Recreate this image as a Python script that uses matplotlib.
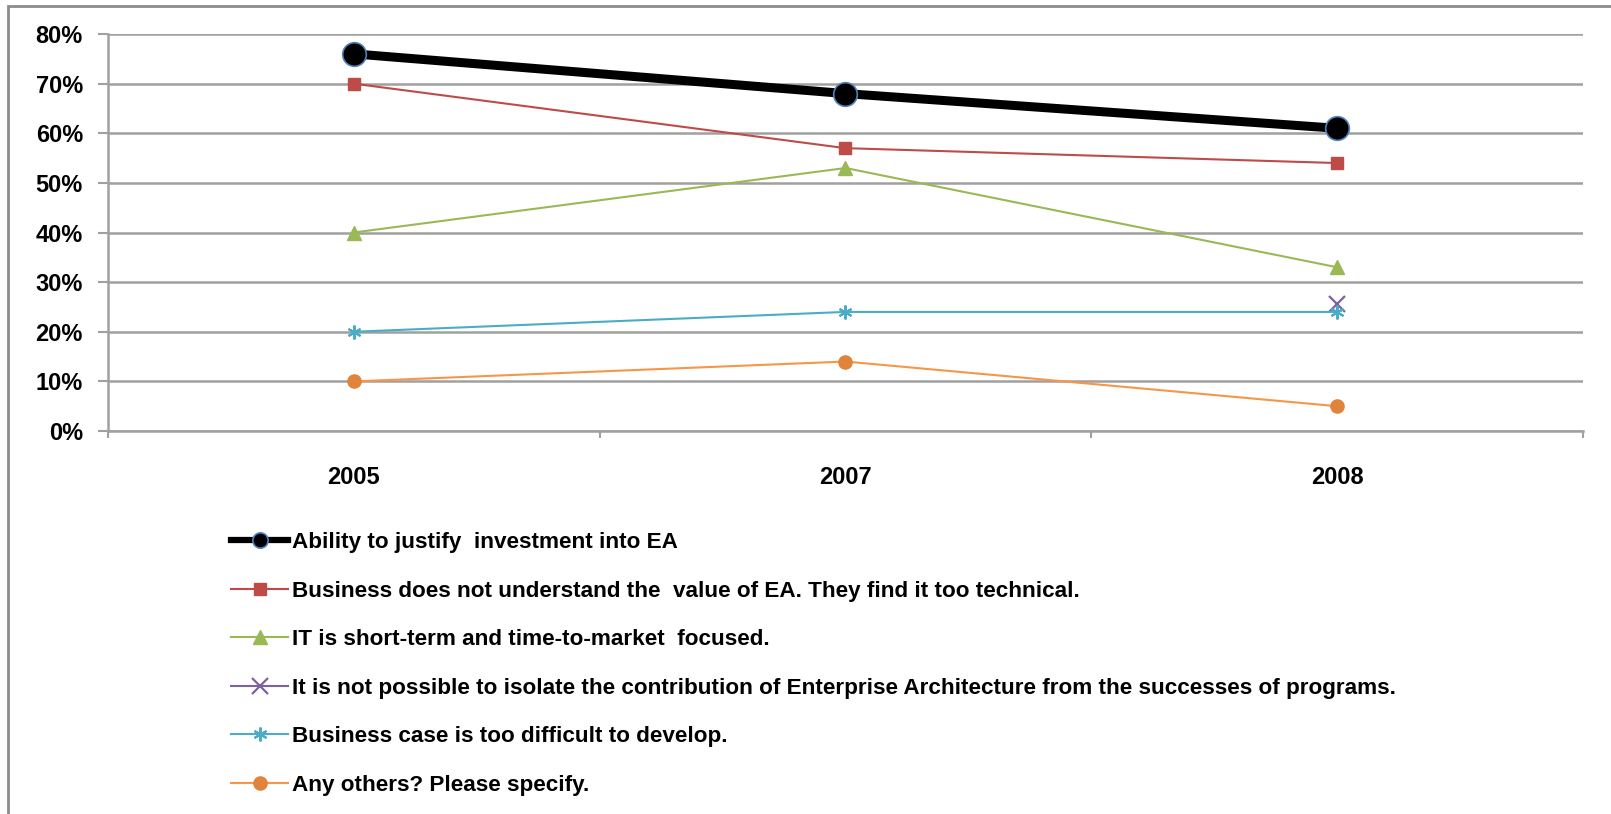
import numpy as np
import matplotlib
matplotlib.use('Agg')
from matplotlib import pyplot as plt
from matplotlib.patches import Rectangle

# data
years = ['2005', '2007', '2008']
ability = [0.76, 0.68, 0.61]
business_value = [0.70, 0.57, 0.54]
it_short_term = [0.40, 0.53, 0.33]
not_possible = [np.nan, np.nan, 0.255]
business_case = [0.20, 0.24, 0.24]
others = [0.10, 0.14, 0.05]
labels = ['Ability to justify  investment into EA',
          'Business does not understand the  value of EA. They find it too technical.',
          'IT is short-term and time-to-market  focused.',
          'It is not possible to isolate the contribution of Enterprise Architecture from the successes of programs.',
          'Business case is too difficult to develop.',
          'Any others? Please specify.']

plt.rcParams['font.family'] = ['Liberation Sans', 'DejaVu Sans']
plt.rcParams['font.weight'] = 'bold'

fig = plt.figure(figsize=(16.11, 8.14), dpi=100)
ax = fig.add_axes([0.0670, 0.4705, 0.9156, 0.4877])
x = np.arange(len(years))
grey = '#A0A0A0'

lines = []
lines += ax.plot(x, ability, color='black', lw=6.5, marker='o', ms=17,
                 mfc='black', mec='#4F81BD', mew=1.2, zorder=6)
lines += ax.plot(x, business_value, color='#BE4B48', lw=1.5, marker='s', ms=9,
                 mec='#BE4B48', zorder=5)
lines += ax.plot(x, it_short_term, color='#98B954', lw=1.5, marker='^', ms=10,
                 mec='#98B954', zorder=5)
lines += ax.plot(x, not_possible, color='#7D60A0', lw=1.5, marker='x', ms=11,
                 mew=1.6, zorder=5)
lines += ax.plot(x, business_case, color='#4BACC6', lw=1.5, marker=(6, 2, 0), ms=10,
                 mew=1.5, zorder=5)
lines += ax.plot(x, others, color='#F79646', lw=1.5, marker='o', ms=9.5,
                 mfc='#E0833B', mec='#E0833B', zorder=5)

ax.set_xlim(-0.5, 2.5)
ax.set_ylim(0, 0.8)
ax.set_yticks(np.arange(0, 0.81, 0.1))
ax.set_yticklabels(['%d%%' % v for v in range(0, 81, 10)])
ax.set_xticks(x)
ax.set_xticklabels(years)
ax.set_xticks([-0.5, 0.5, 1.5, 2.5], minor=True)
ax.grid(axis='y', color=grey, lw=1.8, zorder=0)
ax.set_axisbelow(True)
for s in ['top', 'right']:
    ax.spines[s].set_visible(False)
for s in ['left', 'bottom']:
    ax.spines[s].set_color(grey)
    ax.spines[s].set_linewidth(1.8)
ax.tick_params(axis='y', length=7, width=1.5, color=grey, pad=11, labelsize=17)
ax.tick_params(axis='x', which='major', length=0, pad=25, labelsize=17)
ax.tick_params(axis='x', which='minor', length=5, width=1.5, color=grey)

leg = fig.legend(lines, labels, loc='upper left', bbox_to_anchor=(0.1434, 0.346),
                 frameon=False, fontsize=16.2, handlelength=2.55, handletextpad=0.15,
                 labelspacing=1.22, borderpad=0, borderaxespad=0)
leg.legend_handles[0].set_markersize(11)
leg.legend_handles[0].set_linewidth(4.5)

# outer chart border
fig.patches.append(Rectangle((8 / 1611, -0.1), 1.2, 1 - 6 / 814 + 0.1,
                             transform=fig.transFigure, fill=False,
                             ec='#8C8C8C', lw=2))

fig.savefig('out.png', dpi=100)
